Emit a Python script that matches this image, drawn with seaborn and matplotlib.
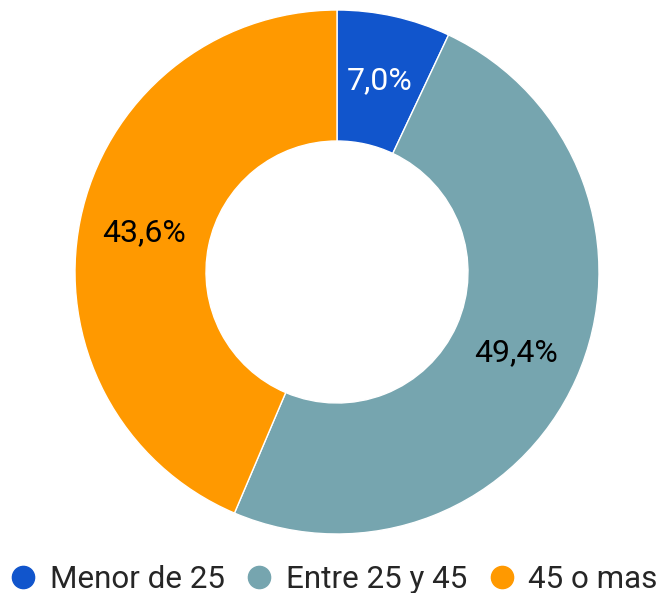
import matplotlib
matplotlib.use("Agg")
import matplotlib.pyplot as plt
import seaborn as sns
from matplotlib.lines import Line2D

sns.set_theme(style="white")
plt.rcParams["font.family"] = ["Roboto", "DejaVu Sans"]

# ── Data ──────────────────────────────────────
categories = ["Menor de 25", "Entre 25 y 45", "45 o mas"]
values = [7.0, 49.4, 43.6]
labels = ["7,0%", "49,4%", "43,6%"]
colors = ["#1155CC", "#76A5AF", "#FF9900"]
label_colors = ["white", "black", "black"]

W, H = 665, 593
fig = plt.figure(figsize=(W / 100, H / 100), dpi=100)
cx, cy, R = 337, 272, 262
ax = fig.add_axes([(cx - R) / W, (H - cy - R) / H, 2 * R / W, 2 * R / H])

wedges, texts = ax.pie(
    values, colors=colors, startangle=90, counterclock=False,
    radius=1.0, wedgeprops=dict(width=0.5, edgecolor="white", linewidth=1),
    labels=labels, labeldistance=0.75,
    textprops=dict(fontsize=23, ha="center", va="center"),
)
for t, c in zip(texts, label_colors):
    t.set_color(c)
    t.set_horizontalalignment("center")
    t.set_verticalalignment("center")
ax.set_xlim(-1, 1)
ax.set_ylim(-1, 1)
ax.set_aspect("equal")
ax.axis("off")

handles = [Line2D([0], [0], marker="o", linestyle="", markersize=16,
                  markerfacecolor=c, markeredgecolor=c) for c in colors]
fig.legend(handles, categories, loc="center", bbox_to_anchor=(0.5, 1 - 579 / H),
           ncol=3, frameon=False, fontsize=22.6, handletextpad=0.35,
           columnspacing=0.6, handlelength=1.0)

fig.savefig("out.png", dpi=100)
